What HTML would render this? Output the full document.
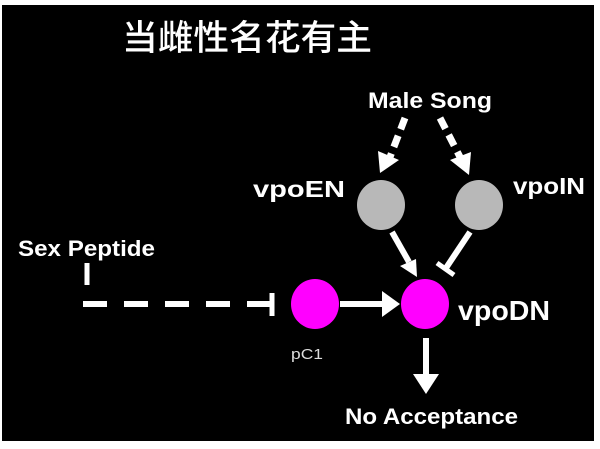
<!DOCTYPE html>
<html><head><meta charset="utf-8"><style>
html,body{margin:0;padding:0;background:#fff;}
svg{display:block;}
text{font-family:"Liberation Sans","Noto Sans CJK SC",sans-serif;fill:#fff;font-weight:bold;}
</style></head><body>
<svg width="600" height="449" viewBox="0 0 600 449">
<rect x="0" y="0" width="600" height="449" fill="#fff"/>
<rect x="2" y="5" width="592" height="436" fill="#000"/>
<text x="122" y="50" font-size="35" style="font-family:'Noto Sans CJK SC',sans-serif;font-weight:500" textLength="250" lengthAdjust="spacingAndGlyphs">当雌性名花有主</text>
<text x="368" y="108" font-size="22" textLength="124" lengthAdjust="spacingAndGlyphs">Male Song</text>
<text x="253" y="197" font-size="23" textLength="92" lengthAdjust="spacingAndGlyphs">vpoEN</text>
<text x="513" y="194" font-size="23" textLength="72" lengthAdjust="spacingAndGlyphs">vpoIN</text>
<text x="18" y="256" font-size="22" textLength="137" lengthAdjust="spacingAndGlyphs">Sex Peptide</text>
<text x="458" y="320" font-size="28" textLength="92" lengthAdjust="spacingAndGlyphs">vpoDN</text>
<text x="291" y="359" font-size="15" style="fill:#ddd;font-weight:normal" textLength="32" lengthAdjust="spacingAndGlyphs">pC1</text>
<text x="345" y="424" font-size="22" textLength="173" lengthAdjust="spacingAndGlyphs">No Acceptance</text>
<g stroke="#fff" stroke-width="7" fill="none">
<line x1="405" y1="118" x2="390" y2="157" stroke-dasharray="12,7"/>
<line x1="440" y1="118" x2="460" y2="157" stroke-dasharray="12,7"/>
<line x1="87" y1="263" x2="87" y2="285" stroke-width="5"/>
<line x1="83" y1="304" x2="272" y2="304" stroke-dasharray="24,17" stroke-width="6"/>
<line x1="272" y1="293" x2="272" y2="316" stroke-width="5"/>
<line x1="340" y1="304" x2="385" y2="304" stroke-width="6"/>
<line x1="392" y1="232" x2="409" y2="262" stroke-width="6"/>
<line x1="470" y1="232" x2="446" y2="268" stroke-width="6"/>
<line x1="437" y1="263" x2="454" y2="275" stroke-width="5"/>
<line x1="426" y1="338" x2="426" y2="376" stroke-width="6"/>
</g>
<g fill="#fff">
<polygon points="380,173 378,151 399,160"/>
<polygon points="469,175 450,160 471,152"/>
<polygon points="382,291 382,317 400,304"/>
<polygon points="417,277 400,266 416,259"/>
<polygon points="413,374 439,374 426,394"/>
</g>
<ellipse cx="381" cy="205" rx="24" ry="25" fill="#b8b8b8"/>
<ellipse cx="479" cy="205" rx="24" ry="25" fill="#b8b8b8"/>
<ellipse cx="315" cy="304" rx="24" ry="25" fill="#ff00ff"/>
<ellipse cx="425" cy="304" rx="24" ry="25" fill="#ff00ff"/>
</svg>
</body></html>
